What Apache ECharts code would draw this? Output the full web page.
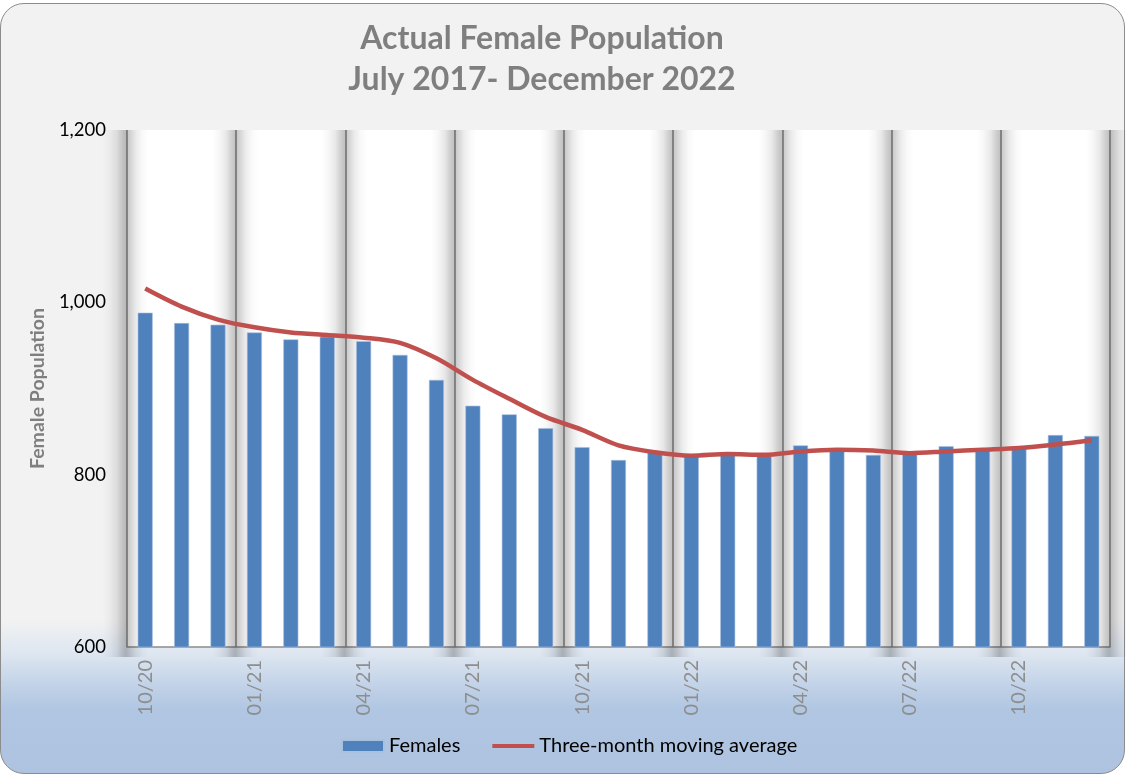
<!DOCTYPE html>
<html>
<head>
<meta charset="utf-8">
<script src="https://cdn.jsdelivr.net/npm/echarts@6/dist/echarts.min.js"></script>
<style>
html,body{margin:0;padding:0;background:#fff;}
#frame{position:absolute;left:0;top:3px;width:1125px;height:771px;box-sizing:border-box;border:1.5px solid #8c8c8c;border-radius:24px;
background:linear-gradient(to bottom,#f2f2f2 0px,#f2f2f2 615px,#dfe7f1 648px,#c3d3e8 680px,#b0c6e2 705px,#adc3df 100%);}
#chart{position:absolute;left:0;top:0;width:1126px;height:775px;}
</style>
</head>
<body>
<div id="frame"></div>
<div id="chart"></div>
<script>
const categories = ['10/20','11/20','12/20','01/21','02/21','03/21','04/21','05/21','06/21','07/21','08/21','09/21','10/21','11/21','12/21','01/22','02/22','03/22','04/22','05/22','06/22','07/22','08/22','09/22','10/22','11/22','12/22'];
const females = [988,976,974,965,957,960,955,939,910,880,870,854,832,817,826,822,823,822,834,828,823,825,833,829,830,846,845];
const movingAverage = [1016,995,980,971,965,962,959,953,935,910,888,867,852,834,826,822,824,823,827,829,828,825,827,829,831,835,840];
const titleLines = ['Actual Female Population','July 2017- December 2022'];
const yName = 'Female Population';
const yMin = 600, yMax = 1200, yStep = 200;
const quarterStep = 3;
// band positions: category index and whether the band sits on its right edge
const bandMarks = [];
for (let i = 0; i < categories.length; i += quarterStep) bandMarks.push([i, 0]);
bandMarks.push([categories.length - 1, 1]);

const chart = echarts.init(document.getElementById('chart'), null, {renderer:'canvas'});
const font = 'Lato, "Open Sans", sans-serif';
const shade = new echarts.graphic.LinearGradient(0, 0, 1, 0, [
  {offset: 0, color: 'rgba(0,0,0,0)'},
  {offset: 0.15, color: 'rgba(0,0,0,0.03)'},
  {offset: 0.3, color: 'rgba(0,0,0,0.09)'},
  {offset: 0.42, color: 'rgba(0,0,0,0.19)'},
  {offset: 0.5, color: 'rgba(0,0,0,0.24)'},
  {offset: 0.6, color: 'rgba(0,0,0,0.17)'},
  {offset: 0.72, color: 'rgba(0,0,0,0.08)'},
  {offset: 0.86, color: 'rgba(0,0,0,0.025)'},
  {offset: 1, color: 'rgba(0,0,0,0)'}
]);
chart.setOption({
  backgroundColor: 'transparent',
  animation: false,
  title: {
    text: titleLines.join('\n'),
    left: 537, top: 13, textAlign: 'center',
    textStyle: {fontFamily: font, fontSize: 32, fontWeight: 'bold', color: '#7f7f7f', lineHeight: 41}
  },
  legend: {
    bottom: 14, left: 336,
    itemWidth: 42, itemHeight: 12, itemGap: 32,
    textStyle: {fontFamily: font, fontSize: 20, color: '#000'},
    data: [
      {name: 'Females', icon: 'rect'},
      {name: 'Three-month moving average', icon: 'path://M0,0L42,0L42,4L0,4Z'}
    ]
  },
  grid: {left: 127, right: 16, top: 130, bottom: 128, show: true, backgroundColor: '#ffffff', borderWidth: 0},
  xAxis: {
    type: 'category', data: categories, boundaryGap: true,
    axisLine: {show: true, lineStyle: {color: '#8c8c8c', width: 1.5}},
    axisTick: {show: false, interval: 2},
    axisLabel: {interval: 2, rotate: 90, margin: 13, color: '#8e8e8e', fontFamily: font, fontSize: 20},
    splitLine: {show: true, interval: 2, lineStyle: {color: '#8a8a8a', width: 1.5}}
  },
  yAxis: {
    type: 'value', min: yMin, max: yMax, interval: yStep,
    name: yName, nameLocation: 'middle', nameGap: 76,
    nameTextStyle: {fontFamily: font, fontSize: 19.5, fontWeight: 'bold', color: '#7f7f7f'},
    axisLine: {show: false}, axisTick: {show: false},
    axisLabel: {margin: 21, color: '#000', fontFamily: font, fontSize: 18.5,
      formatter: v => v.toLocaleString('en-US')},
    splitLine: {show: false}
  },
  series: [
    {name: 'bands', type: 'custom', data: bandMarks, z: 1, silent: true,
     renderItem: function (params, api) {
       const idx = api.value(0), side = api.value(1);
       const bw = api.size([1, 0])[0];
       const bottomPt = api.coord([idx, yMin]);
       const topPt = api.coord([idx, yMax]);
       const x = bottomPt[0] + (side ? bw / 2 : -bw / 2) - 1;
       return {type: 'rect', shape: {x: x - 23, y: topPt[1], width: 46, height: bottomPt[1] - topPt[1] + 10},
               style: {fill: shade}};
     }},
    {name: 'Females', type: 'bar', data: females, barWidth: 15, z: 2,
     itemStyle: {color: '#4f81bd', borderColor: '#a9c1e0', borderWidth: 0.6}},
    {name: 'Three-month moving average', type: 'line', data: movingAverage, smooth: 0.3, z: 3,
     symbol: 'none', lineStyle: {color: '#c0504d', width: 4.5}, itemStyle: {color: '#c0504d'}}
  ]
});
</script>
</body>
</html>
